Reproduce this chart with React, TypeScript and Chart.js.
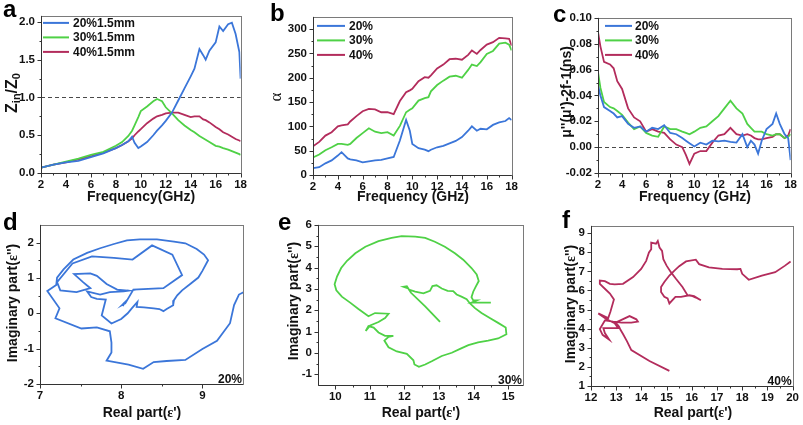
import React, { useEffect, useRef } from "react";
import { Chart, registerables } from "chart.js";

Chart.register(...registerables);

const FONT = "'Liberation Sans', Arial, Helvetica, sans-serif";
const SERIF = "'Liberation Serif', 'Times New Roman', serif";
const BLUE = "#3b76d9";
const GREEN = "#4fd146";
const RED = "#b32c5c";

// ---------- panel a: Zin/Z0 ----------
const freqA = [2, 3, 4, 5, 6, 7, 8, 8.5, 9, 9.3, 9.5, 9.8, 10, 10.5, 11, 11.3, 11.7, 12, 12.5, 13, 13.5, 14, 14.3, 14.7, 15, 15.2, 15.5, 16, 16.3, 16.6, 17, 17.3, 17.6, 17.9, 18];
const zin20 = [0.07, 0.11, 0.14, 0.16, 0.21, 0.26, 0.33, 0.37, 0.42, 0.48, 0.4, 0.33, 0.35, 0.41, 0.5, 0.56, 0.63, 0.69, 0.8, 0.96, 1.12, 1.28, 1.38, 1.64, 1.56, 1.5, 1.62, 1.73, 1.94, 1.88, 1.97, 1.99, 1.84, 1.6, 1.25];
const zin30 = [0.07, 0.11, 0.15, 0.19, 0.24, 0.28, 0.36, 0.41, 0.49, 0.56, 0.63, 0.74, 0.82, 0.88, 0.95, 0.98, 0.95, 0.87, 0.79, 0.7, 0.63, 0.57, 0.54, 0.49, 0.46, 0.44, 0.41, 0.36, 0.35, 0.33, 0.31, 0.29, 0.27, 0.25, 0.24];
const zin40 = [0.07, 0.11, 0.14, 0.18, 0.22, 0.27, 0.33, 0.37, 0.42, 0.46, 0.5, 0.55, 0.58, 0.66, 0.72, 0.75, 0.77, 0.79, 0.8, 0.8, 0.77, 0.74, 0.75, 0.75, 0.71, 0.7, 0.67, 0.61, 0.58, 0.54, 0.51, 0.48, 0.45, 0.43, 0.42];

// ---------- panel b: attenuation constant ----------
const freqB = [2, 2.5, 3, 3.5, 4, 4.3, 4.8, 5, 5.5, 6, 6.5, 7, 7.5, 8, 8.5, 9, 9.5, 9.8, 10, 10.5, 11, 11.3, 11.5, 12, 12.5, 13, 13.5, 14, 14.5, 14.8, 15.2, 15.5, 16, 16.5, 17, 17.5, 17.8, 18];
const alpha20 = [14, 16, 24, 30, 40, 47, 34, 32, 30, 26, 28, 30, 31, 34, 37, 71, 113, 91, 64, 55, 52, 49, 52, 57, 60, 65, 70, 78, 91, 100, 91, 95, 94, 103, 108, 111, 117, 113];
const alpha30 = [36, 42, 51, 57, 64, 64, 62, 64, 76, 86, 96, 89, 86, 88, 81, 101, 129, 134, 137, 153, 158, 160, 172, 185, 194, 202, 204, 200, 216, 227, 224, 232, 249, 255, 270, 272, 268, 256];
const alpha40 = [59, 68, 81, 88, 100, 102, 104, 110, 121, 131, 136, 135, 129, 129, 125, 152, 170, 174, 177, 193, 201, 200, 205, 219, 227, 238, 239, 237, 247, 256, 249, 257, 268, 273, 282, 281, 280, 266];

// ---------- panel c: eddy current ----------
const freqC = [2, 2.2, 2.5, 3, 3.3, 3.6, 4, 4.5, 5, 5.5, 6, 6.5, 7, 7.5, 8, 8.5, 9, 9.3, 9.6, 10, 10.5, 11, 11.5, 12, 12.5, 13, 13.5, 14, 14.4, 14.7, 15, 15.3, 15.6, 16, 16.5, 16.8, 17.1, 17.5, 17.8, 18];
const eddy20 = [0.048, 0.04, 0.031, 0.028, 0.026, 0.023, 0.024, 0.018, 0.015, 0.016, 0.012, 0.015, 0.014, 0.017, 0.011, 0.01, 0.007, 0.005, 0.003, 0.0005, 0.0035, 0.002, 0.005, 0.0045, 0.005, 0.004, 0.0035, 0.01, 0.0, 0.005, 0.002, -0.005, 0.005, 0.014, 0.018, 0.026, 0.018, 0.01, 0.007, -0.01];
const eddy30 = [0.058, 0.046, 0.035, 0.031, 0.03, 0.028, 0.025, 0.019, 0.014, 0.016, 0.011, 0.009, 0.008, 0.016, 0.014, 0.014, 0.012, 0.011, 0.01, 0.012, 0.015, 0.016, 0.02, 0.024, 0.03, 0.036, 0.03, 0.026, 0.018, 0.015, 0.012, 0.012, 0.012, 0.01, 0.009, 0.01, 0.01, 0.007, 0.008, 0.01];
const eddy40 = [0.089, 0.078, 0.066, 0.064, 0.061, 0.051, 0.045, 0.03, 0.023, 0.02, 0.012, 0.014, 0.012, 0.011, 0.006, 0.002, 0.0, -0.006, -0.013, -0.005, -0.003, -0.003, 0.0035, 0.009, 0.01, 0.015, 0.01, 0.009, 0.01, 0.009, 0.007, 0.006, 0.006, 0.007, 0.008, 0.01, 0.01, 0.007, 0.009, 0.014];

// ---------- panels d-f: Cole-Cole (epsilon', epsilon'') ----------
const cole20: [number, number][] = [
  [9.51, 0.6], [9.45, 0.53], [9.39, 0.23], [9.34, -0.28], [9.18, -0.78], [9.0, -1.01], [8.79, -1.32], [8.56, -1.35], [8.4, -1.38], [8.27, -1.57],
  [8.09, -1.45], [7.82, -1.34], [7.88, -1.11], [7.88, -0.83], [7.86, -0.51], [7.7, -0.4], [7.51, -0.43], [7.19, -0.14], [7.24, 0.14], [7.09, 0.63],
  [7.2, 0.8], [7.21, 1.01], [7.29, 1.24], [7.41, 1.52], [7.58, 1.71], [7.74, 1.84], [7.91, 1.96], [8.07, 2.06], [8.23, 2.09], [8.44, 2.09],
  [8.65, 2.03], [8.79, 1.98], [8.93, 1.82], [9.02, 1.66], [9.07, 1.5], [9.0, 1.2], [8.95, 1.01], [8.85, 0.83], [8.75, 0.65], [8.69, 0.51],
  [8.65, 0.37], [8.64, 0.23], [8.56, 0.12], [8.52, 0.06], [8.47, 0.12], [8.4, 0.14], [8.28, 0.17], [8.19, 0.18], [8.2, 0.32], [8.13, 0.14],
  [8.08, 0.0], [8.0, -0.16], [7.88, -0.29], [7.76, -0.06], [7.81, 0.39], [7.7, 0.41], [7.63, 0.46], [7.58, 0.62], [7.74, 0.53], [7.86, 0.6],
  [8.03, 0.62], [8.09, 0.64], [7.95, 0.67], [7.82, 0.83], [7.7, 1.06], [7.62, 1.13], [7.42, 1.11], [7.53, 0.88], [7.62, 0.71], [7.45, 0.6],
  [7.25, 0.65], [7.21, 0.88], [7.4, 1.41], [7.64, 1.61], [7.91, 1.57], [8.14, 1.52], [8.38, 1.92], [8.63, 1.66], [8.75, 1.08], [8.52, 0.71],
  [8.15, 0.67], [8.05, 0.28], [8.01, 0.23], [8.04, 0.3], [8.02, 0.2],
];
const cole30: [number, number][] = [
  [13.03, 1.46], [12.6, 2.18], [12.19, 2.82], [12.11, 3.02], [11.97, 3.1], [12.07, 3.13], [12.13, 2.97], [12.31, 2.87], [12.55, 2.79], [12.74, 2.91],
  [12.81, 3.13], [12.93, 3.17], [13.08, 3.02], [13.25, 2.91], [13.41, 2.9], [13.51, 2.74], [13.65, 2.64], [13.8, 2.52], [13.89, 2.33], [14.04, 2.1],
  [14.23, 1.87], [14.47, 1.64], [14.71, 1.41], [14.93, 1.19], [14.95, 0.88], [14.71, 0.68], [14.42, 0.58], [14.13, 0.5], [13.85, 0.37], [13.61, 0.19],
  [13.37, 0.01], [13.08, -0.14], [12.79, -0.39], [12.6, -0.54], [12.42, -0.65], [12.29, -0.54], [12.26, -0.34], [12.07, -0.04], [11.78, 0.07], [11.54, 0.27],
  [11.42, 0.58], [11.54, 0.76], [11.68, 0.8], [11.44, 0.8], [11.25, 0.96], [11.11, 1.19], [10.96, 1.26], [10.88, 1.03], [11.01, 1.29], [11.25, 1.45],
  [11.44, 1.64], [11.54, 1.84], [11.15, 1.87], [10.96, 1.72], [10.67, 2.06], [10.43, 2.36], [10.19, 2.64], [10.03, 2.94], [9.98, 3.22], [10.05, 3.58],
  [10.17, 3.98], [10.34, 4.32], [10.58, 4.67], [10.87, 4.98], [11.25, 5.24], [11.63, 5.39], [11.92, 5.47], [12.31, 5.45], [12.6, 5.39], [12.88, 5.21],
  [13.17, 4.98], [13.46, 4.67], [13.7, 4.37], [13.94, 3.98], [14.09, 3.68], [14.15, 3.37], [14.06, 3.1], [13.99, 2.87], [13.94, 2.61], [13.99, 2.46],
  [14.09, 2.46], [13.94, 2.36], [14.23, 2.36], [14.5, 2.36],
];
const cole40: [number, number][] = [
  [15.11, 1.79], [14.32, 2.31], [13.6, 2.88], [13.43, 3.34], [13.27, 3.72], [13.17, 3.94], [13.11, 4.12], [12.98, 4.32], [13.21, 4.46], [13.53, 4.66],
  [13.8, 4.49], [13.86, 4.37], [13.6, 4.32], [13.21, 4.32], [12.88, 4.37], [12.55, 4.43], [12.35, 3.98], [12.46, 3.68], [12.72, 3.43], [12.55, 3.77],
  [12.49, 4.03], [13.08, 4.03], [12.94, 4.29], [12.62, 4.49], [12.29, 4.8], [12.68, 4.55], [12.77, 4.89], [12.91, 5.53], [12.75, 5.84], [12.55, 6.09],
  [12.35, 6.35], [12.35, 6.52], [12.55, 6.49], [12.75, 6.35], [12.94, 6.32], [13.27, 6.35], [13.67, 6.7], [13.99, 7.13], [14.19, 7.55], [14.3, 7.99],
  [14.39, 8.16], [14.39, 8.5], [14.58, 8.45], [14.65, 8.59], [14.72, 8.25], [14.82, 8.07], [14.87, 7.64], [15.0, 7.3], [15.17, 6.96], [15.37, 6.61],
  [15.63, 6.18], [15.83, 5.75], [16.03, 5.7], [16.16, 5.63], [16.36, 5.49], [16.09, 5.7], [15.9, 5.75], [15.57, 5.67], [15.35, 5.67], [15.11, 5.32],
  [15.04, 5.58], [14.91, 5.67], [14.78, 5.92], [14.78, 6.18], [14.91, 6.44], [15.11, 6.78], [15.31, 7.04], [15.5, 7.27], [15.77, 7.52], [16.16, 7.61],
  [16.29, 7.38], [16.68, 7.21], [17.21, 7.13], [17.8, 7.11], [17.93, 7.13], [18.0, 6.87], [18.26, 6.56], [18.78, 6.78], [19.31, 6.96], [19.7, 7.3],
  [19.92, 7.52],
];

// ---------- ticks ----------
const freqTicks = [2, 4, 6, 8, 10, 12, 14, 16, 18];
const freqMinor = [3, 5, 7, 9, 11, 13, 15, 17];
const zinTicks = [0, 0.5, 1.0, 1.5, 2.0];
const zinMinor = [0.25, 0.75, 1.25, 1.75];
const alphaTicks = [0, 50, 100, 150, 200, 250, 300];
const alphaMinor = [25, 75, 125, 175, 225, 275];
const eddyTicks = [-0.02, 0, 0.02, 0.04, 0.06, 0.08, 0.1];
const eddyMinor = [-0.01, 0.01, 0.03, 0.05, 0.07, 0.09];
const dXTicks = [7, 8, 9];
const dXMinor = [7.5, 8.5];
const dYTicks = [-2, -1, 0, 1, 2];
const dYMinor = [-1.5, -0.5, 0.5, 1.5];
const eXTicks = [10, 11, 12, 13, 14, 15];
const eXMinor = [10.5, 11.5, 12.5, 13.5, 14.5];
const eYTicks = [-1, 0, 1, 2, 3, 4, 5, 6];
const eYMinor = [-0.5, 0.5, 1.5, 2.5, 3.5, 4.5, 5.5];
const fXTicks = [12, 13, 14, 15, 16, 17, 18, 19, 20];
const fXMinor = [12.5, 13.5, 14.5, 15.5, 16.5, 17.5, 18.5, 19.5];
const fYTicks = [1, 2, 3, 4, 5, 6, 7, 8, 9];
const fYMinor = [1.5, 2.5, 3.5, 4.5, 5.5, 6.5, 7.5, 8.5];

const zip = (xs: number[], ys: number[]) => xs.map((x, i) => ({ x, y: ys[i] }));
const pairs = (p: [number, number][]) => p.map(([x, y]) => ({ x, y }));
const fInt = (v: number) => String(Math.round(v));
const f1 = (v: number) => v.toFixed(1);
const f2 = (v: number) => (Math.abs(v) < 1e-9 ? "0.00" : v.toFixed(2));

const YW = 40;
const XH = 24;
const PAD = 10;

const decor = {
  id: "decor",
  beforeDatasetsDraw(chart: any, _a: any, o: any) {
    if (o.refLine === undefined || o.refLine === null) return;
    const { ctx, chartArea: ca, scales } = chart;
    const y = Math.round(scales.y.getPixelForValue(o.refLine)) + 0.5;
    ctx.save();
    ctx.strokeStyle = "#4a4a4a";
    ctx.lineWidth = 1;
    ctx.setLineDash([4, 3]);
    ctx.beginPath();
    ctx.moveTo(ca.left, y);
    ctx.lineTo(ca.right, y);
    ctx.stroke();
    ctx.restore();
  },
  afterDatasetsDraw(chart: any, _a: any, o: any) {
    const { ctx, chartArea: ca, scales } = chart;
    const xs = scales.x;
    const ys = scales.y;
    ctx.save();
    ctx.strokeStyle = "#7a7a7a";
    ctx.lineWidth = 1;
    ctx.strokeRect(Math.round(ca.left) + 0.5, Math.round(ca.top) + 0.5, Math.round(ca.right - ca.left), Math.round(ca.bottom - ca.top));
    ctx.strokeStyle = "#333";
    ctx.beginPath();
    const b = Math.round(ca.bottom) + 0.5;
    const l = Math.round(ca.left) + 0.5;
    for (const v of o.xMajor) {
      const p = Math.round(xs.getPixelForValue(v)) + 0.5;
      ctx.moveTo(p, b);
      ctx.lineTo(p, b + 4);
    }
    for (const v of o.xMinor) {
      const p = Math.round(xs.getPixelForValue(v)) + 0.5;
      ctx.moveTo(p, b);
      ctx.lineTo(p, b + 2);
    }
    for (const v of o.yMajor) {
      const p = Math.round(ys.getPixelForValue(v)) + 0.5;
      ctx.moveTo(l, p);
      ctx.lineTo(l - 4, p);
    }
    for (const v of o.yMinor) {
      const p = Math.round(ys.getPixelForValue(v)) + 0.5;
      ctx.moveTo(l, p);
      ctx.lineTo(l - 2, p);
    }
    ctx.stroke();
    ctx.beginPath();
    ctx.moveTo(l, ca.top);
    ctx.lineTo(l, b);
    ctx.lineTo(ca.right, b);
    ctx.stroke();

    if (o.legend) {
      const lg = o.legend;
      ctx.font = `bold 12px ${FONT}`;
      ctx.textBaseline = "middle";
      ctx.textAlign = "left";
      lg.items.forEach((it: any, i: number) => {
        const y = ca.top + lg.dy + i * lg.row;
        const x0 = ca.left + lg.dx;
        ctx.strokeStyle = it.color;
        ctx.lineWidth = 2;
        ctx.beginPath();
        ctx.moveTo(x0, y);
        ctx.lineTo(x0 + lg.len, y);
        ctx.stroke();
        ctx.fillStyle = "#111";
        ctx.fillText(it.label, x0 + lg.len + lg.gap, y + 0.5);
      });
    }
    if (o.inset) {
      ctx.font = `bold 12px ${FONT}`;
      ctx.textAlign = "right";
      ctx.textBaseline = "alphabetic";
      ctx.fillStyle = "#111";
      ctx.fillText(o.inset, ca.right - 1, ca.bottom - 1.5);
    }
    ctx.restore();
  },
};

type Series = { data: { x: number; y: number }[]; color: string };
type PanelCfg = {
  rect: [number, number, number, number];
  xMin: number; xMax: number; yMin: number; yMax: number;
  xTicks: number[]; xMinor: number[]; yTicks: number[]; yMinor: number[];
  xFmt: (v: number) => string; yFmt: (v: number) => string;
  series: Series[];
  legend?: any;
  refLine?: number;
  inset?: string;
};

const legendItemsA = [
  { label: "20%1.5mm", color: BLUE },
  { label: "30%1.5mm", color: GREEN },
  { label: "40%1.5mm", color: RED },
];
const legendItemsPct = [
  { label: "20%", color: BLUE },
  { label: "30%", color: GREEN },
  { label: "40%", color: RED },
];

const panels: PanelCfg[] = [
  {
    rect: [41, 13, 242, 173], xMin: 2, xMax: 18, yMin: 0, yMax: 2.08,
    xTicks: freqTicks, xMinor: freqMinor, yTicks: zinTicks, yMinor: zinMinor, xFmt: fInt, yFmt: f1,
    series: [
      { data: zip(freqA, zin20), color: BLUE },
      { data: zip(freqA, zin30), color: GREEN },
      { data: zip(freqA, zin40), color: RED },
    ],
    legend: { dx: 2, dy: 7, len: 26, gap: 4, row: 14.5, items: legendItemsA },
    refLine: 1.0,
  },
  {
    rect: [313, 14, 513, 175], xMin: 2, xMax: 18, yMin: 0, yMax: 325,
    xTicks: freqTicks, xMinor: freqMinor, yTicks: alphaTicks, yMinor: alphaMinor, xFmt: fInt, yFmt: fInt,
    series: [
      { data: zip(freqB, alpha20), color: BLUE },
      { data: zip(freqB, alpha30), color: GREEN },
      { data: zip(freqB, alpha40), color: RED },
    ],
    legend: { dx: 4, dy: 9, len: 28, gap: 4, row: 14.5, items: legendItemsPct },
  },
  {
    rect: [598, 15, 792, 173], xMin: 2, xMax: 18, yMin: -0.02, yMax: 0.1,
    xTicks: freqTicks, xMinor: freqMinor, yTicks: eddyTicks, yMinor: eddyMinor, xFmt: fInt, yFmt: f2,
    series: [
      { data: zip(freqC, eddy20), color: BLUE },
      { data: zip(freqC, eddy30), color: GREEN },
      { data: zip(freqC, eddy40), color: RED },
    ],
    legend: { dx: 7, dy: 8, len: 27, gap: 3, row: 14.5, items: legendItemsPct },
    refLine: 0,
  },
  {
    rect: [40, 222, 243, 384], xMin: 7, xMax: 9.5, yMin: -2, yMax: 2.5,
    xTicks: dXTicks, xMinor: dXMinor, yTicks: dYTicks, yMinor: dYMinor, xFmt: fInt, yFmt: fInt,
    series: [{ data: pairs(cole20), color: BLUE }],
    inset: "20%",
  },
  {
    rect: [318, 222, 523, 385], xMin: 9.5, xMax: 15.43, yMin: -1.5, yMax: 6,
    xTicks: eXTicks, xMinor: eXMinor, yTicks: eYTicks, yMinor: eYMinor, xFmt: fInt, yFmt: fInt,
    series: [{ data: pairs(cole30), color: GREEN }],
    inset: "30%",
  },
  {
    rect: [591, 223, 794, 386], xMin: 12, xMax: 20, yMin: 1, yMax: 9.38,
    xTicks: fXTicks, xMinor: fXMinor, yTicks: fYTicks, yMinor: fYMinor, xFmt: fInt, yFmt: fInt,
    series: [{ data: pairs(cole40), color: RED }],
    inset: "40%",
  },
];

function Panel({ cfg }: { cfg: PanelCfg }) {
  const ref = useRef<HTMLCanvasElement>(null);
  const [l, t, r, b] = cfg.rect;
  const left = l - YW;
  const top = t - PAD;
  const w = r + PAD - left;
  const h = b + XH - top;
  useEffect(() => {
    const tickFont = { family: FONT, size: 11.5, weight: "bold" as const };
    const chart = new Chart(ref.current as HTMLCanvasElement, {
      type: "line",
      data: {
        datasets: cfg.series.map((s) => ({
          data: s.data,
          borderColor: s.color,
          backgroundColor: s.color,
          borderWidth: 1.8,
          pointRadius: 0,
          fill: false,
          tension: 0,
        })),
      },
      options: {
        responsive: false,
        maintainAspectRatio: false,
        animation: false,
        events: [],
        layout: { padding: { top: PAD, right: PAD, left: 0, bottom: 0 } },
        plugins: {
          legend: { display: false },
          tooltip: { enabled: false },
          decor: {
            xMajor: cfg.xTicks, xMinor: cfg.xMinor, yMajor: cfg.yTicks, yMinor: cfg.yMinor,
            legend: cfg.legend, refLine: cfg.refLine, inset: cfg.inset,
          },
        } as any,
        scales: {
          x: {
            type: "linear",
            position: "bottom",
            min: cfg.xMin,
            max: cfg.xMax,
            grid: { display: false, drawTicks: false },
            border: { display: false },
            ticks: {
              color: "#111",
              font: tickFont,
              padding: 5,
              maxRotation: 0,
              autoSkip: false,
              callback: (v: any) => cfg.xFmt(Number(v)),
            },
            afterBuildTicks: (s: any) => {
              s.ticks = cfg.xTicks.map((v) => ({ value: v }));
            },
            afterFit: (s: any) => {
              s.height = XH;
            },
          },
          y: {
            type: "linear",
            position: "left",
            min: cfg.yMin,
            max: cfg.yMax,
            grid: { display: false, drawTicks: false },
            border: { display: false },
            ticks: {
              color: "#111",
              font: tickFont,
              padding: 6,
              autoSkip: false,
              callback: (v: any) => cfg.yFmt(Number(v)),
            },
            afterBuildTicks: (s: any) => {
              s.ticks = cfg.yTicks.map((v) => ({ value: v }));
            },
            afterFit: (s: any) => {
              s.width = YW;
            },
          },
        },
      } as any,
      plugins: [decor as any],
    });
    return () => chart.destroy();
  }, []);
  return (
    <canvas
      ref={ref}
      width={w}
      height={h}
      style={{ position: "absolute", left, top, width: w, height: h }}
    />
  );
}

const TITLE_FONT = `bold 14px ${FONT}`;

function Txt({ x, y, rot, font, children }: { x: number; y: number; rot?: boolean; font?: string; children: any }) {
  return (
    <div
      style={{
        position: "absolute",
        left: x,
        top: y,
        transform: `translate(-50%, -50%)${rot ? " rotate(-90deg)" : ""}`,
        font: font || TITLE_FONT,
        color: "#111",
        whiteSpace: "nowrap",
        lineHeight: 1,
      }}
    >
      {children}
    </div>
  );
}

function Letter({ x, baseline, children }: { x: number; baseline: number; children: any }) {
  return (
    <div
      style={{
        position: "absolute",
        left: x,
        top: baseline - 20,
        font: `bold 24px ${FONT}`,
        lineHeight: "24px",
        color: "#000",
      }}
    >
      {children}
    </div>
  );
}

const subStyle = { fontSize: 11, verticalAlign: "-3px" };
const epsStyle = { fontFamily: SERIF, fontWeight: "bold" as const };

export default function App() {
  return (
    <div
      style={{
        position: "fixed",
        left: 0,
        top: 0,
        width: 803,
        height: 425,
        background: "#fff",
        overflow: "hidden",
      }}
    >
      {panels.map((p, i) => (
        <Panel key={i} cfg={p} />
      ))}

      <Letter x={3} baseline={17}>a</Letter>
      <Letter x={270} baseline={21}>b</Letter>
      <Letter x={553} baseline={22}>c</Letter>
      <Letter x={3} baseline={230}>d</Letter>
      <Letter x={278} baseline={230}>e</Letter>
      <Letter x={562} baseline={228}>f</Letter>

      <Txt x={141} y={196}>Frequency(GHz)</Txt>
      <Txt x={413} y={196}>Frequency (GHz)</Txt>
      <Txt x={695} y={196}>Frequency (GHz)</Txt>

      <Txt x={13} y={93} rot font={`bold 16px ${FONT}`}>
        Z<span style={subStyle}>in</span>/Z<span style={subStyle}>0</span>
      </Txt>
      <Txt x={275} y={97} rot font={`17px ${SERIF}`}>α</Txt>
      <Txt x={566} y={92} rot>μ''(μ')-2f-1(ns)</Txt>

      <Txt x={142} y={412}>Real part(<span style={epsStyle}>ε</span>')</Txt>
      <Txt x={421} y={412}>Real part(<span style={epsStyle}>ε</span>')</Txt>
      <Txt x={693} y={412}>Real part(<span style={epsStyle}>ε</span>')</Txt>

      <Txt x={12} y={303} rot>Imaginary part(<span style={epsStyle}>ε</span>'')</Txt>
      <Txt x={293} y={301} rot>Imaginary part(<span style={epsStyle}>ε</span>'')</Txt>
      <Txt x={570} y={304} rot>Imaginary part(<span style={epsStyle}>ε</span>'')</Txt>
    </div>
  );
}
